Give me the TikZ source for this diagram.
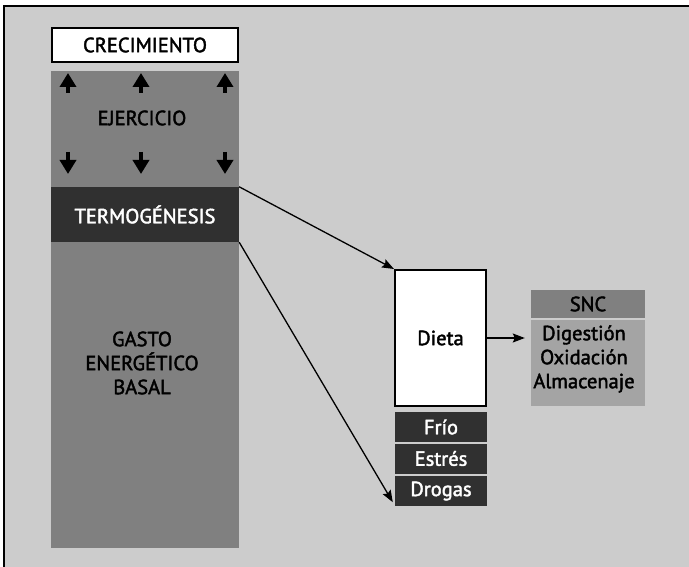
\documentclass[tikz,border=0pt]{standalone}
\usepackage{fontspec}
\setmainfont{PT Sans}[FakeBold=2]
\usetikzlibrary{arrows.meta,calc}

\definecolor{backgray}{HTML}{CCCCCC}
\definecolor{midgray}{HTML}{808080}
\definecolor{softgray}{HTML}{A4A4A4}
\definecolor{nightgray}{HTML}{303030}

\tikzset{%
  every block/.style={
    rectangle,
    inner sep=0pt,
    font=\fontsize{20.5}{24}\selectfont
  },
  block white/.style={
    fill=white,
    draw=black,
    line width=2pt
  },
  block mid/.style={fill=midgray},
  block dark/.style={fill=nightgray, text=white},
  block light/.style={fill=softgray},
  small arrow/.style={
    line width=4.5pt,
    -{Triangle[width=16pt,length=14pt]}
  },
}

\begin{document}
\begin{tikzpicture}[x=1pt, y=-1pt, >={Stealth[length=12pt,width=9pt,inset=2pt]}]
\useasboundingbox (0,0) rectangle (689,567);
\fill [backgray] (4,6) rectangle (689,567);
\draw [line width=2pt] (4,567) -- (4,6) -- (689,6);

% left column
\node [every block, block white, minimum width=186pt, minimum height=34pt] (crec) at (145,45) {CRECIMIENTO};
\node [every block, block mid, minimum width=188pt, minimum height=116pt] (ejer) at (145,129) {};
\node [every block] (ejer-text) at (142,118) {EJERCICIO};
\node [every block, block dark, minimum width=188pt, minimum height=55pt] (termo) at (145,214.5) {TERMOGÉNESIS};
\node [every block, block mid, minimum width=188pt, minimum height=306pt] (gasto) at (145,395) {};
\node [every block, align=center] (gasto-text) at (142,363) {GASTO\\ENERGÉTICO\\BASAL};

\foreach \x in {68,141,225}
{
  \draw [small arrow] (\x,93) -- (\x,73);
  \draw [small arrow] (\x,152) -- (\x,174);
}

% right side
\node [every block, block white, minimum width=91pt, minimum height=136pt] (dieta) at (440.5,338) {Dieta};

\foreach \n/\l/\y in {frio/Frío/427, estres/Estrés/458.5, drogas/Drogas/491}
  \node [every block, block dark, minimum width=92pt, minimum height=30pt] (\n) at (441,\y) {\l};

\node [every block, block mid, minimum width=114pt, minimum height=28pt] (snc) at (588,304) {SNC};
\node [every block, block light, minimum width=114pt, minimum height=86pt] (proc) at (588,363) {};
\node [every block, align=center] (proc-text) at (584,359) {Digestión\\Oxidación\\Almacenaje};

% connectors
\draw [->, line width=1.3pt] (termo.north east) -- (dieta.north west);
\draw [->, line width=1.3pt] (termo.south east) -- ($(drogas.south west)+(-2,-4)$);
\draw [->, line width=1.3pt, shorten >=6pt] (dieta.east) -- (dieta.east -| proc.west);

\end{tikzpicture}
\end{document}
